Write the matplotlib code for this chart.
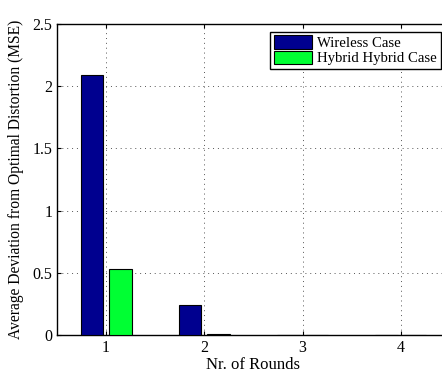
import matplotlib.pyplot as plt
import numpy as np

rounds = [1, 2, 3, 4]
wireless = [2.09, 0.24, 0.003, 0.0005]
hybrid = [0.53, 0.012, 0.001, 0.0003]

plt.rcParams['font.family'] = ['Liberation Serif', 'DejaVu Serif']

fig = plt.figure(figsize=(4.42, 3.74), dpi=100)
ax = fig.add_axes([0.129, 0.104, 0.889, 0.832])

x = np.array(rounds)
w = 0.23
ax.bar(x - 0.145, wireless, w, color='#00008f', edgecolor='black', linewidth=0.8, label='Wireless Case', zorder=3)
ax.bar(x + 0.145, hybrid, w, color='#00ff33', edgecolor='black', linewidth=0.8, label='Hybrid Hybrid Case', zorder=3)

ax.set_xlim(0.5, 4.5)
ax.set_ylim(0, 2.5)
ax.set_xticks(rounds)
ax.set_yticks([0, 0.5, 1, 1.5, 2, 2.5])
ax.set_yticklabels(['0', '0.5', '1', '1.5', '2', '2.5'])
ax.tick_params(direction='in', labelsize=11.5, top=True, right=True, length=3)
ax.grid(True, linestyle=(0, (1, 4)), color='#555555', linewidth=0.7)
ax.set_axisbelow(True)
for s in ax.spines.values():
    s.set_linewidth(1.0)

ax.set_xlabel('Nr. of Rounds', fontsize=12, labelpad=1)
ax.set_ylabel('Average Deviation from Optimal Distortion (MSE)', fontsize=11.2, labelpad=6)

leg = ax.legend(loc='upper right', bbox_to_anchor=(0.976, 0.975), fontsize=10.6, frameon=True, fancybox=False,
                edgecolor='black', framealpha=1, borderpad=0.25, handlelength=2.6, handleheight=1.0,
                handletextpad=0.35, labelspacing=0.05, borderaxespad=0)
leg.get_frame().set_linewidth(1.0)

fig.savefig('out.png', dpi=100)
